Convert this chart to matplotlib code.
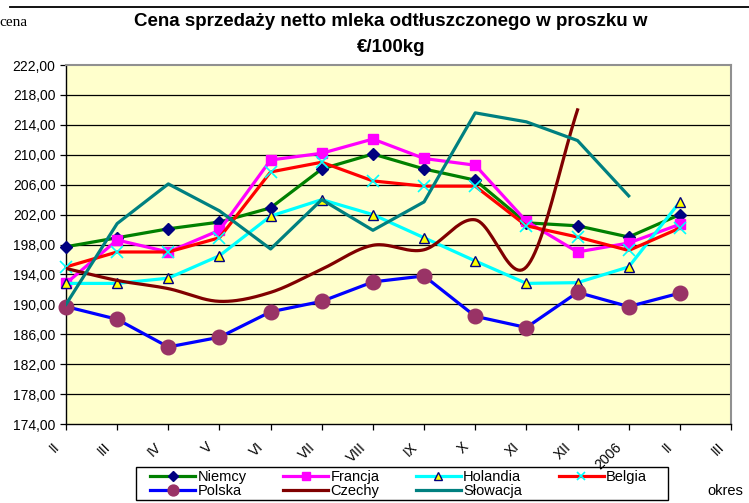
import numpy as np
import matplotlib
matplotlib.use("Agg")
import matplotlib.pyplot as plt
import matplotlib.transforms as mtransforms
from matplotlib.lines import Line2D
from matplotlib.patches import Rectangle

plt.rcParams['font.family'] = ['Liberation Sans', 'DejaVu Sans']

# data (EUR / 100 kg)
months = ["II", "III", "IV", "V", "VI", "VII", "VIII", "IX", "X", "XI", "XII", "2006", "II", "III"]

niemcy = [197.7, 198.9, 200.1, 201.0, 202.9, 208.1, 210.1, 208.1, 206.6, 200.9, 200.5, 199.0, 202.0]
francja = [192.8, 198.6, 197.0, 199.9, 209.3, 210.2, 212.1, 209.5, 208.6, 201.1, 197.0, 198.2, 200.7]
holandia = [192.8, 192.8, 193.5, 196.5, 201.8, 204.0, 202.0, 198.9, 195.8, 192.8, 192.9, 195.0, 203.7]
belgia = [195.0, 197.0, 197.0, 198.9, 207.7, 209.0, 206.5, 205.8, 205.8, 200.5, 199.0, 197.2, 200.2]
polska = [189.7, 188.0, 184.3, 185.6, 189.0, 190.4, 193.0, 193.8, 188.4, 186.9, 191.6, 189.7, 191.5]
czechy = [194.8, 193.2, 192.1, 190.4, 191.6, 194.7, 197.9, 197.3, 201.3, 195.0, 216.0]
slowacja = [190.0, 200.8, 206.1, 202.5, 197.4, 204.0, 199.9, 203.7, 215.6, 214.4, 211.9, 204.5]

y_ticks = np.arange(174, 223, 4)


def smooth(ys, n=24):
    # Catmull-Rom curve through the points, like Excel's "smoothed line"
    pts = np.column_stack([np.arange(len(ys)), ys]).astype(float)
    p = np.vstack([pts[0] * 2 - pts[1], pts, pts[-1] * 2 - pts[-2]])
    out = []
    for i in range(1, len(p) - 2):
        p0, p1, p2, p3 = p[i - 1], p[i], p[i + 1], p[i + 2]
        for t in np.linspace(0, 1, n, endpoint=False):
            t2, t3 = t * t, t * t * t
            out.append(0.5 * ((2 * p1) + (-p0 + p2) * t + (2 * p0 - 5 * p1 + 4 * p2 - p3) * t2
                              + (-p0 + 3 * p1 - 3 * p2 + p3) * t3))
    out.append(pts[-1])
    out = np.array(out)
    return out[:, 0], out[:, 1]


fig = plt.figure(figsize=(7.49, 5.03), dpi=100)
W, H = 749, 503
ax = fig.add_axes([66 / W, 1 - 424 / H, (731 - 66) / W, (424 - 65) / H])
ax.set_facecolor("#FFFFCC")

lw = 2.3
x = np.arange(len(niemcy))
ax.plot(x, niemcy, color="#008000", lw=lw, marker="D", ms=6.5, mfc="#000080", mec="#000080",
        label="Niemcy", zorder=3, clip_on=False)
ax.plot(x, francja, color="#FF00FF", lw=lw, marker="s", ms=7, mfc="#FF00FF", mec="#FF00FF",
        label="Francja", zorder=3, clip_on=False)
ax.plot(x, holandia, color="#00FFFF", lw=lw, marker="^", ms=7.5, mfc="#FFFF00", mec="#000080", mew=1,
        label="Holandia", zorder=3, clip_on=False)
ax.plot(x, belgia, color="#FF0000", lw=lw, marker="x", ms=8, mec="#00FFFF", mew=1.2,
        label="Belgia", zorder=3, clip_on=False)
ax.plot(np.arange(len(polska)), polska, color="#0000FF", lw=lw, marker="o", ms=10.5, mfc="#993366",
        mec="#993366", label="Polska", zorder=3, clip_on=False)
cx, cy = smooth(czechy)
ax.plot(cx, cy, color="#800000", lw=lw, label="Czechy", zorder=3)
ax.plot(np.arange(len(slowacja)), slowacja, color="#008080", lw=lw, label="Słowacja", zorder=3)

ax.set_xlim(0, 13)
ax.set_ylim(174, 222)
ax.set_yticks(y_ticks)
ax.set_yticklabels([f"{v:.2f}".replace(".", ",") for v in y_ticks], fontsize=10)
for v in y_ticks[1:-1]:
    ax.axhline(v, color="black", lw=0.9, zorder=1)

ax.set_xticks(np.arange(14))
ax.set_xticklabels([])
ax.tick_params(axis="both", direction="out", length=4.5, width=0.9, color="black")
ax.tick_params(axis="y", pad=3)
for s in ["left", "bottom"]:
    ax.spines[s].set_color("black")
    ax.spines[s].set_linewidth(1.0)
for s in ["right", "top"]:
    ax.spines[s].set_color("#909090")
    ax.spines[s].set_linewidth(1.5)

off = mtransforms.ScaledTranslation(-9 / 100, -21 / 100, fig.dpi_scale_trans)
trans = mtransforms.blended_transform_factory(ax.transData, ax.transAxes) + off
for i, m in enumerate(months):
    ax.text(i, 0, m, transform=trans, rotation=45, ha="right", va="center",
            rotation_mode="anchor", fontsize=10)

fig.text(391 / W, 1 - 22 / H, "Cena sprzedaży netto mleka odtłuszczonego w proszku w",
         ha="center", va="center", fontsize=13.5, fontweight="bold")
fig.text(391 / W, 1 - 48 / H, "€/100kg", ha="center", va="center", fontsize=13.5, fontweight="bold")
fig.text(-1 / W, 1 - 22 / H, "cena", ha="left", va="center", fontsize=11, family="Liberation Serif")
fig.text(707 / W, 1 - 491 / H, "okres", ha="left", va="center", fontsize=10.5)
fig.add_artist(Line2D([10 / W, 1], [1 - 7 / H, 1 - 7 / H], color="black", lw=1.3))

# legend: frame drawn separately so it can be wider than its entries, as in Excel
fig.add_artist(Rectangle((136 / W, 1 - 500 / H), (668 - 136) / W, (500 - 467) / H,
                         transform=fig.transFigure, fill=False, edgecolor="black", lw=1.0))
h, l = ax.get_legend_handles_labels()
order = [0, 4, 1, 5, 2, 6, 3]
leg = fig.legend([h[i] for i in order], [l[i] for i in order], ncol=4,
                 loc="upper left", bbox_to_anchor=(150 / W, 1 - 470 / H),
                 fontsize=10.5, frameon=False, handlelength=3.1,
                 handletextpad=0.15, columnspacing=2.5, labelspacing=0.0,
                 borderpad=0.0, borderaxespad=0, markerscale=0.75)

fig.savefig("out.png", dpi=100)
